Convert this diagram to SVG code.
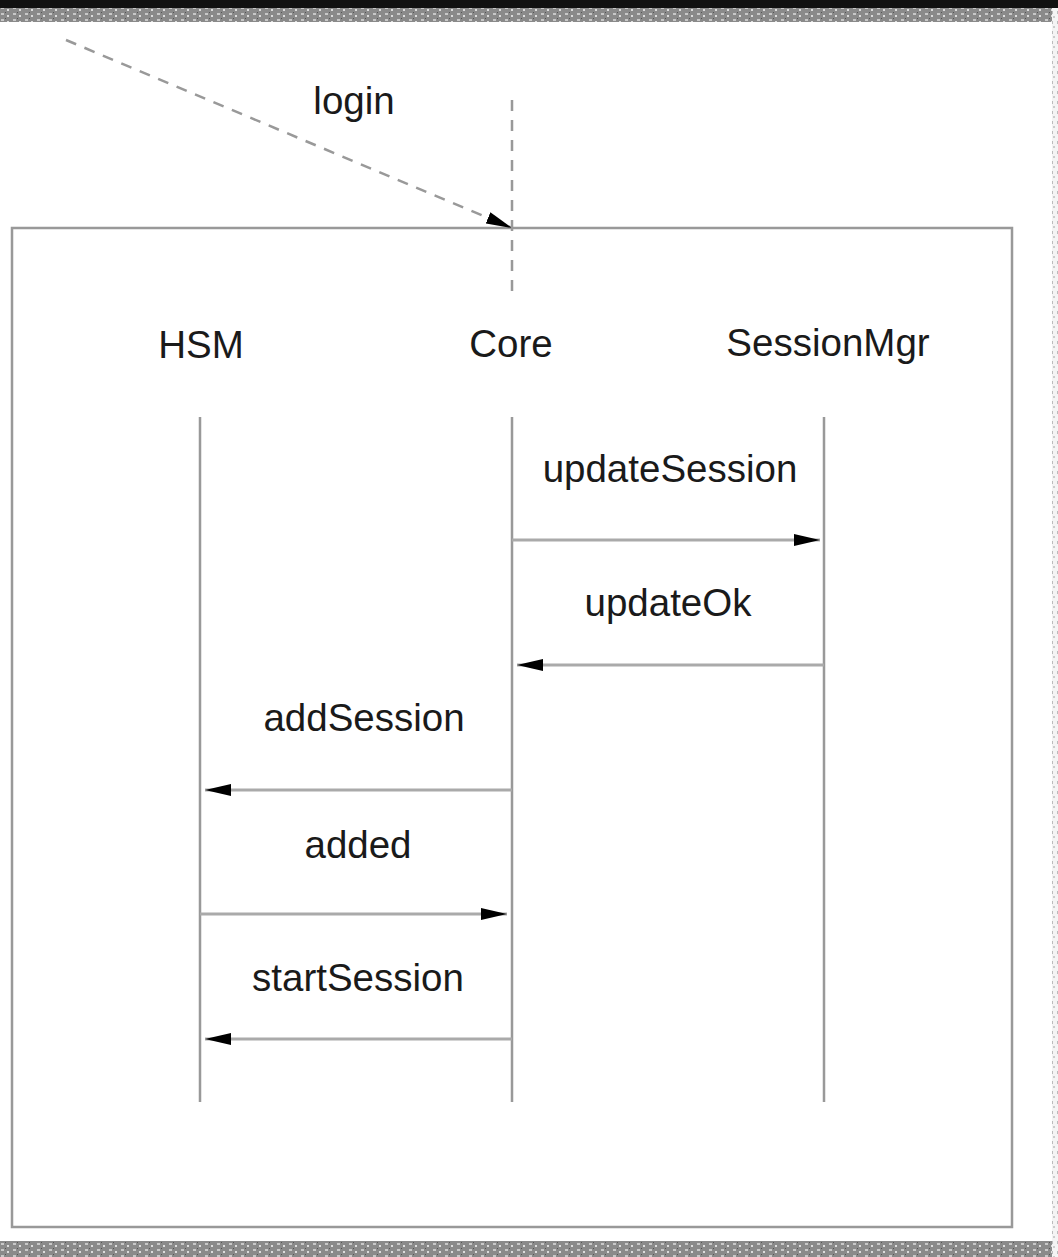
<svg xmlns="http://www.w3.org/2000/svg" width="1058" height="1257" viewBox="0 0 1058 1257">
<defs>
<style>
.lbl{font-family:"Liberation Sans",Arial,sans-serif;font-size:38.5px;fill:#1a1a1a;text-anchor:middle}
.life{stroke:#999;stroke-width:2.5;fill:none}
.msg{stroke:#aaa;stroke-width:3;fill:none}
.dash{stroke:#999;stroke-width:2.5;fill:none;stroke-dasharray:11 9}
</style>
<marker id="ah" markerWidth="26" markerHeight="14" refX="26" refY="7" orient="auto" markerUnits="userSpaceOnUse">
<path d="M0,1 L26,7 L0,13 Z" fill="#000"/>
</marker>
<pattern id="noise" width="12" height="6" patternUnits="userSpaceOnUse">
<rect width="12" height="6" fill="#8a8a8a"/>
<rect x="1" y="1" width="3" height="2" fill="#c8c8c8"/>
<rect x="7" y="3" width="2" height="2" fill="#dcdcdc"/>
<rect x="5" y="0" width="1" height="1" fill="#555"/>
</pattern>
<pattern id="noiseV" width="6" height="10" patternUnits="userSpaceOnUse">
<rect width="6" height="10" fill="#f4f4f4"/>
<rect x="1" y="1" width="2" height="3" fill="#bbb"/>
<rect x="3" y="6" width="2" height="2" fill="#ccc"/>
</pattern>
</defs>
<rect width="1058" height="1257" fill="#fff"/>
<rect x="0" y="0" width="1058" height="22" fill="url(#noise)"/>
<rect x="0" y="0" width="1058" height="8" fill="#111"/>
<rect x="0" y="1241" width="1058" height="16" fill="url(#noise)"/>
<rect x="1052" y="0" width="6" height="1257" fill="url(#noiseV)"/>
<rect x="0" y="0" width="1058" height="8" fill="#111"/>
<rect id="frame" x="12" y="228" width="1000" height="999" fill="none" stroke="#999" stroke-width="2.5"/>
<g id="login-label"><text class="lbl" x="354" y="114">login</text></g>
<g id="HSM"><text class="lbl" x="201" y="358">HSM</text><line class="life" x1="200" y1="417" x2="200" y2="1102"/></g>
<g id="Core"><text class="lbl" x="511" y="357">Core</text><line class="life" x1="512" y1="417" x2="512" y2="1102"/></g>
<g id="SessionMgr"><text class="lbl" x="828" y="356">SessionMgr</text><line class="life" x1="824" y1="417" x2="824" y2="1102"/></g>
<g id="connectors">
<line class="dash" x1="66" y1="40" x2="512" y2="228" marker-end="url(#ah)"/>
<line class="dash" x1="512" y1="100" x2="512" y2="292"/>
<line class="msg" x1="512" y1="540" x2="820" y2="540" marker-end="url(#ah)"/>
<line class="msg" x1="824" y1="665" x2="517" y2="665" marker-end="url(#ah)"/>
<line class="msg" x1="512" y1="790" x2="205" y2="790" marker-end="url(#ah)"/>
<line class="msg" x1="200" y1="914" x2="507" y2="914" marker-end="url(#ah)"/>
<line class="msg" x1="512" y1="1039" x2="205" y2="1039" marker-end="url(#ah)"/>
<text class="lbl" x="670" y="482">updateSession</text>
<text class="lbl" x="668" y="616">updateOk</text>
<text class="lbl" x="364" y="731">addSession</text>
<text class="lbl" x="358" y="858">added</text>
<text class="lbl" x="358" y="991">startSession</text>
</g>
</svg>
